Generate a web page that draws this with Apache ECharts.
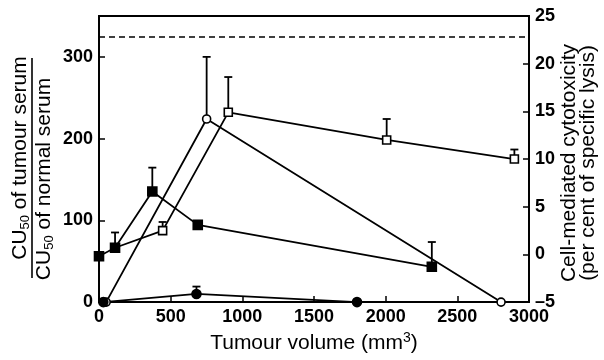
<!DOCTYPE html>
<html>
<head>
<meta charset="utf-8">
<script src="https://cdn.jsdelivr.net/npm/echarts@6/dist/echarts.min.js"></script>
<style>
  html, body { margin: 0; padding: 0; background: #fff; }
  #chart { width: 604px; height: 360px; }
</style>
</head>
<body>
<div id="chart"></div>
<script>
// x ticks (tumour volume, mm3)
const xTicks = [0, 500, 1000, 1500, 2000, 2500, 3000];
const leftTicks = [0, 100, 200, 300];
const rightTicks = [-5, 0, 5, 10, 15, 20, 25];

// CU50 ratio (left axis) - circles
const openCircle = [[50, 0], [751, 224], [2805, 0]];
const openCircleErr = [null, 300, null];
const filledCircle = [[30, 0], [680, 10], [1800, 0]];
const filledCircleErr = [null, 19, null];

// cytotoxicity % (right axis) - squares
const filledSquare = [[0, -0.2], [112, 0.7], [372, 6.6], [689, 3.1], [2322, -1.3]];
const filledSquareErr = [null, 2.3, 9.1, null, 1.3];
const openSquare = [[112, 0.7], [444, 2.5], [902, 14.9], [2007, 12], [2898, 10]];
const openSquareErr = [null, 3.4, 18.6, 14.2, 11.0];

// dashed reference level (left axis units)
const refLevel = [325];

const FONT = "Liberation Sans";
const chart = echarts.init(document.getElementById("chart"));

// upward error bars with a cap
const errSeries = (pts, errs, yIdx) => ({
  type: "custom",
  yAxisIndex: yIdx,
  z: 1,
  silent: true,
  data: pts.map((p, i) => [p[0], p[1], errs[i]]).filter(d => d[2] != null),
  renderItem: (params, api) => {
    const a = api.coord([api.value(0), api.value(1)]);
    const b = api.coord([api.value(0), api.value(2)]);
    const style = { stroke: "#000", lineWidth: 1.8 };
    return {
      type: "group",
      children: [
        { type: "line", shape: { x1: a[0], y1: a[1], x2: b[0], y2: b[1] }, style },
        { type: "line", shape: { x1: b[0] - 4, y1: b[1], x2: b[0] + 4, y2: b[1] }, style },
      ],
    };
  },
});

const lineSeries = (data, yIdx, symbol, size, fill, extra) => Object.assign({
  type: "line",
  yAxisIndex: yIdx,
  data,
  symbol,
  symbolSize: size,
  showAllSymbol: true,
  clip: false,
  z: 3,
  lineStyle: { color: "#000", width: 1.8 },
  itemStyle: { color: fill, borderColor: "#000", borderWidth: 1.6 },
  emphasis: { disabled: true },
}, extra || {});

const labelStyle = { fontSize: 18, color: "#000", fontWeight: "bold", fontFamily: FONT, margin: 6 };
const axisLineStyle = { show: true, lineStyle: { color: "#000", width: 1.8 } };
const tickStyle = { show: true, inside: true, length: 6, lineStyle: { color: "#000", width: 1.5 } };
const fracRich = {
  m: { fontSize: 21, fontFamily: FONT, fill: "#000", lineHeight: 22 },
  s: { fontSize: 13, fontFamily: FONT, fill: "#000", lineHeight: 22, padding: [10, 0, 0, 0] },
};

const option = {
  animation: false,
  textStyle: { fontFamily: FONT },
  grid: {
    left: 99, right: 75, top: 16, bottom: 57,
    show: true, borderColor: "#000", borderWidth: 1.8,
  },
  xAxis: {
    type: "value",
    min: xTicks[0], max: xTicks[xTicks.length - 1], interval: 500,
    name: "{m|Tumour volume (mm}{u|3}{m|)}",
    nameLocation: "middle",
    nameGap: 26,
    nameTextStyle: {
      color: "#000", fontFamily: FONT,
      rich: {
        m: { fontSize: 21, fontFamily: FONT, color: "#000", lineHeight: 24 },
        u: { fontSize: 14, fontFamily: FONT, color: "#000", lineHeight: 24, padding: [0, 0, 10, 0] },
      },
    },
    axisLine: axisLineStyle,
    axisTick: tickStyle,
    axisLabel: Object.assign({ formatter: v => String(v) }, labelStyle),
    splitLine: { show: false },
  },
  yAxis: [
    {
      type: "value",
      min: leftTicks[0], max: 350, interval: 100,
      axisLine: axisLineStyle,
      axisTick: tickStyle,
      axisLabel: Object.assign({ showMaxLabel: false }, labelStyle),
      splitLine: { show: false },
    },
    {
      type: "value",
      position: "right",
      min: rightTicks[0], max: rightTicks[rightTicks.length - 1], interval: 5,
      axisLine: axisLineStyle,
      axisTick: tickStyle,
      axisLabel: Object.assign({ formatter: v => String(v).replace("-", "–") }, labelStyle),
      splitLine: { show: false },
    },
  ],
  graphic: [
    {
      type: "group", x: 32, y: 168, rotation: Math.PI / 2,
      children: [
        {
          type: "text", x: 10, y: -12,
          style: {
            text: "{m|CU}{s|50}{m| of tumour serum}",
            align: "center", verticalAlign: "middle", rich: fracRich,
          },
        },
        { type: "line", shape: { x1: -110, y1: 0, x2: 110, y2: 0 }, style: { stroke: "#000", lineWidth: 1.6 } },
        {
          type: "text", x: -11, y: 12,
          style: {
            text: "{m|CU}{s|50}{m| of normal serum}",
            align: "center", verticalAlign: "middle", rich: fracRich,
          },
        },
      ],
    },
    {
      type: "text", x: 579, y: 163, rotation: Math.PI / 2,
      style: {
        text: "Cell-mediated cytotoxicity\n(per cent of specific lysis)",
        align: "center", verticalAlign: "middle",
        fontSize: 21, lineHeight: 19, fontFamily: FONT, fill: "#000",
      },
    },
  ],
  series: [
    errSeries(openCircle, openCircleErr, 0),
    errSeries(filledCircle, filledCircleErr, 0),
    errSeries(filledSquare, filledSquareErr, 1),
    errSeries(openSquare, openSquareErr, 1),
    lineSeries(openCircle, 0, "circle", 8, "#fff", {
      markLine: {
        silent: true, symbol: "none", label: { show: false },
        lineStyle: { color: "#000", type: [6, 4], width: 1.5 },
        data: [{ yAxis: refLevel[0] }],
      },
    }),
    lineSeries(filledCircle, 0, "circle", 9, "#000"),
    lineSeries(openSquare.map((p, i) => i === 0 ? { value: p, symbolSize: 0 } : p), 1, "rect", 8, "#fff"),
    lineSeries(filledSquare, 1, "rect", 9, "#000", { z: 4 }),
  ],
};
chart.setOption(option);
</script>
</body>
</html>
